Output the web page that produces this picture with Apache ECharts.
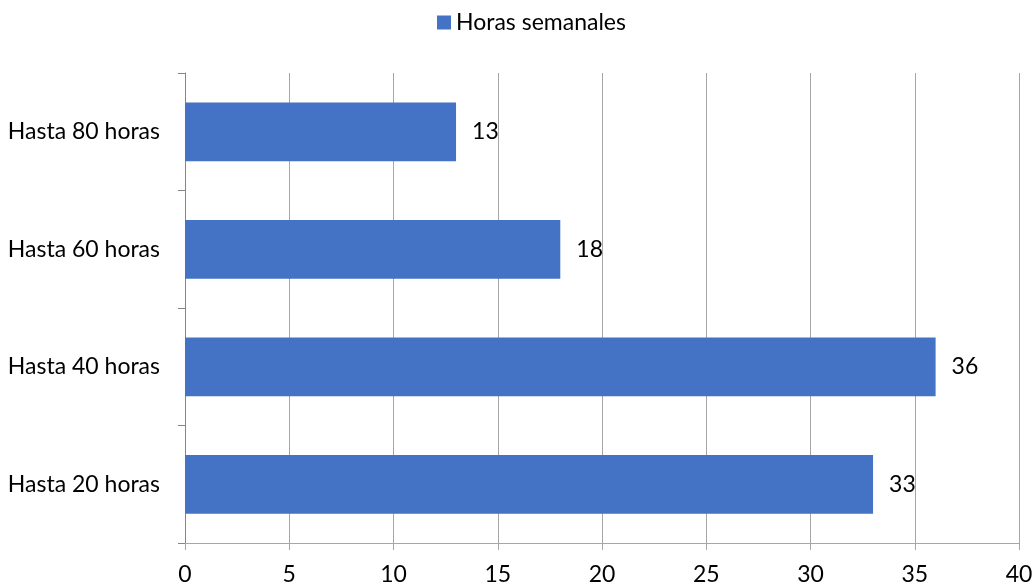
<!DOCTYPE html>
<html>
<head>
<meta charset="utf-8">
<script src="https://cdn.jsdelivr.net/npm/echarts@6/dist/echarts.min.js"></script>
<style>
  html, body { margin: 0; padding: 0; background: #fff; }
  #chart { width: 1036px; height: 586px; }
</style>
</head>
<body>
<div id="chart"></div>
<script>
// Categories (bottom to top) and values
const categories = ['Hasta 20 horas', 'Hasta 40 horas', 'Hasta 60 horas', 'Hasta 80 horas'];
const horasSemanales = [33, 36, 18, 13];
const seriesName = 'Horas semanales';

const font = 'Lato, "Open Sans", sans-serif';
const fontSize = 23;
const textColor = '#000';

const chart = echarts.init(document.getElementById('chart'));

const option = {
  backgroundColor: '#fff',
  animation: false,
  legend: {
    data: [seriesName],
    top: 6,
    left: 432,
    icon: 'rect',
    itemWidth: 14,
    itemHeight: 14,
    itemGap: 5,
    textStyle: { color: textColor, fontSize: fontSize, fontFamily: font }
  },
  grid: {
    left: 185,
    right: 17,
    top: 73,
    bottom: 42
  },
  xAxis: {
    type: 'value',
    min: 0,
    max: 40,
    interval: 5,
    axisLine: { show: true, lineStyle: { color: '#a6a6a6', width: 1 } },
    axisTick: { show: true, length: 7, lineStyle: { color: '#a6a6a6' } },
    axisLabel: { color: textColor, fontSize: fontSize, fontFamily: font, margin: 20 },
    splitLine: { show: true, lineStyle: { color: '#a6a6a6', width: 1 } }
  },
  yAxis: {
    type: 'category',
    data: categories,
    axisLine: { show: true, lineStyle: { color: '#868686', width: 1 } },
    axisTick: { show: true, length: 7, lineStyle: { color: '#868686' } },
    axisLabel: { color: textColor, fontSize: fontSize, fontFamily: font, margin: 25 },
    splitLine: { show: false }
  },
  series: [
    {
      name: seriesName,
      type: 'bar',
      data: horasSemanales,
      barWidth: '50%',
      itemStyle: { color: '#4472c4' },
      label: {
        show: true,
        position: 'right',
        distance: 16,
        color: textColor,
        fontSize: fontSize,
        fontFamily: font
      }
    }
  ]
};

chart.setOption(option);
</script>
</body>
</html>
